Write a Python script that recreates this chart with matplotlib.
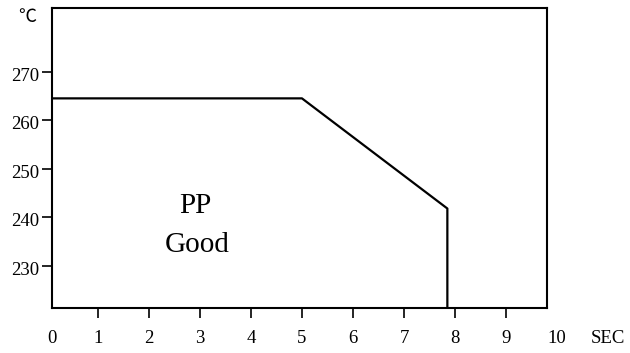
import matplotlib
matplotlib.use("Agg")
import matplotlib.pyplot as plt
import matplotlib.transforms as mtransforms

plt.rcParams['font.family'] = ['Liberation Serif', 'DejaVu Serif']

# temperature profile (deg C vs seconds)
sec = [0.1, 5.0, 7.85, 7.85]
temp = [264.5, 264.5, 241.8, 221.3]

x_ticks = [1, 2, 3, 4, 5, 6, 7, 8, 9]
y_ticks = [230, 240, 250, 260, 270]

fig = plt.figure(figsize=(6.3, 3.53), dpi=100)
ax = fig.add_axes([0.0825, 0.1275, 0.7855, 0.8495])

ax.plot(sec, temp, color='black', lw=1.6)

ax.set_xlim(0.1, 9.8)
ax.set_ylim(221.3, 283.1)
ax.set_xticks(x_ticks)
ax.set_xticklabels([str(v) for v in x_ticks])
ax.set_yticks(y_ticks)
ax.set_yticklabels([str(v) for v in y_ticks])
ax.tick_params(axis='x', direction='out', length=7, width=1.2, pad=9, labelsize=13.5)
ax.tick_params(axis='y', direction='out', length=7, width=1.2, pad=2, labelsize=13.5)
for lab in ax.get_yticklabels():
    lab.set_transform(lab.get_transform() + mtransforms.ScaledTranslation(0, -0.025, fig.dpi_scale_trans))

for s in ax.spines.values():
    s.set_linewidth(1.5)

# extra axis labels outside the tick range
trans = mtransforms.blended_transform_factory(ax.transData, ax.transAxes)
ax.text(0.1, -0.075, '0', transform=trans, ha='center', va='top', fontsize=13.5)
ax.text(10.0, -0.075, '10', transform=trans, ha='center', va='top', fontsize=13.5)
ax.text(11.0, -0.075, 'SEC', transform=trans, ha='center', va='top', fontsize=13.5)
ax.text(-0.05, 0.97, '℃', transform=ax.transAxes, ha='center', va='center', fontsize=13,
        family=['Noto Sans CJK SC', 'DejaVu Sans'])

ax.text(2.9, 242.3, 'PP', ha='center', va='center', fontsize=21)
ax.text(2.95, 234.2, 'Good', ha='center', va='center', fontsize=21)

fig.savefig('out.png', dpi=100)
